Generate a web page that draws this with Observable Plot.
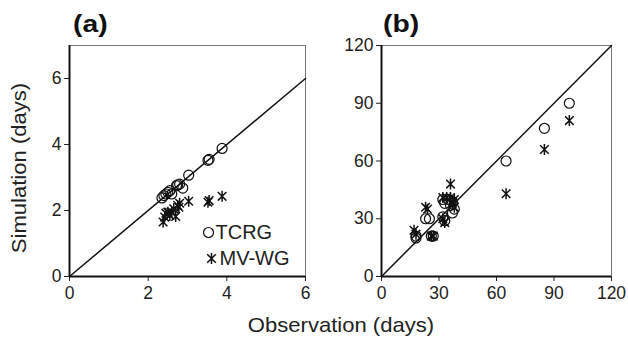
<!DOCTYPE html>
<html><head><meta charset="utf-8">
<script src="https://cdn.jsdelivr.net/npm/d3@7"></script>
<script src="https://cdn.jsdelivr.net/npm/@observablehq/plot@0.6"></script>
<style>
body{margin:0;background:#fff;}
#wrap{position:relative;width:628px;height:340px;font-family:"Liberation Sans",Arial,sans-serif;color:#222;}
#wrap svg{position:absolute;top:0;}
.lbl{position:absolute;white-space:nowrap;line-height:1;}
</style></head><body><div id="wrap"></div>
<script>
// Panel (a)
const tcrgA_obs = [2.35, 2.4, 2.45, 2.5, 2.55, 2.6, 2.72, 2.75, 2.8, 2.88, 3.03, 3.52, 3.55, 3.88];
const tcrgA_sim = [2.38, 2.45, 2.5, 2.55, 2.6, 2.5, 2.75, 2.78, 2.8, 2.68, 3.07, 3.52, 3.55, 3.88];
const mvwgA_obs = [2.38, 2.42, 2.45, 2.5, 2.55, 2.6, 2.65, 2.7, 2.75, 2.78, 2.8, 3.03, 3.52, 3.55, 3.88];
const mvwgA_sim = [1.65, 1.8, 1.92, 1.95, 1.85, 1.95, 2.05, 1.82, 2.15, 2.1, 2.22, 2.28, 2.25, 2.3, 2.43];
// Panel (b)
const tcrgB_obs = [18, 18, 26, 27, 23, 25, 32, 33, 32, 33, 35, 36, 37, 37, 38, 65, 85, 98];
const tcrgB_sim = [20, 21, 21, 21, 30, 30, 31, 29, 40, 38, 40, 37, 33, 39, 35, 60, 77, 90];
const mvwgB_obs = [17, 18, 26, 27, 23, 24, 32, 33, 32, 34, 36, 36, 37, 38, 38, 65, 85, 98];
const mvwgB_sim = [24, 22, 21, 21, 36, 35, 30, 28, 41, 41, 48, 41, 38, 40, 36, 43, 66, 81];
// Axes
const xTicksA = [0, 2, 4, 6];
const yTicksA = [0, 2, 4, 6];
const ticksB = [0, 30, 60, 90, 120];
const domainA_x = [0, 6], domainA_y = [0, 7], domainB = [0, 120];
const lineA = [0, 6], lineB = [0, 120];
const seriesNames = ["TCRG", "MV-WG"];
const panelNames = ["(a)", "(b)"];
const xTitle = "Observation (days)", yTitle = "Simulation (days)";

const zip = (xs, ys) => xs.map((x, i) => ({obs: x, sim: ys[i]}));

const asterisk = {
  draw(ctx, size) {
    const r = Math.sqrt(size / Math.PI);
    const d = r * 0.78;
    ctx.moveTo(0, -r); ctx.lineTo(0, r);
    ctx.moveTo(-d, -d); ctx.lineTo(d, d);
    ctx.moveTo(-d, d); ctx.lineTo(d, -d);
  }
};

function panel(opts) {
  const {w, ml, mr, xd, yd, xt, yt, line, tcrg, mvwg, legend} = opts;
  const marks = [
    Plot.frame({stroke: "#777", strokeWidth: 1}),
    Plot.axisX({ticks: xt, tickSize: 5, tickPadding: 5, label: null, tickFormat: d => d, fill: "#222", stroke: "#222"}),
    Plot.axisY({ticks: yt, tickSize: 5, tickPadding: 3, label: null, tickFormat: d => d, fill: "#222", stroke: "#222"}),
    Plot.ruleX([xd[0]], {stroke: "#111", strokeWidth: 2}),
    Plot.ruleY([yd[0]], {stroke: "#111", strokeWidth: 2}),
    Plot.line(line, {x: d => d, y: d => d, stroke: "#111", strokeWidth: 1.5}),
    Plot.dot(tcrg, {x: "obs", y: "sim", r: 5, stroke: "#111", strokeWidth: 1.2}),
    Plot.dot(mvwg, {x: "obs", y: "sim", r: 5.5, symbol: asterisk, stroke: "#111", strokeWidth: 1.5})
  ];
  if (legend) {
    marks.push(
      Plot.dot([seriesNames[0]], {frameAnchor: "bottom-left", dx: 139, dy: -44, r: 5, stroke: "#111", strokeWidth: 1.2}),
      Plot.text([seriesNames[0]], {text: d => d, frameAnchor: "bottom-left", dx: 146, dy: -44, textAnchor: "start", lineAnchor: "middle", fontSize: 20, fill: "#222"}),
      Plot.dot([seriesNames[1]], {frameAnchor: "bottom-left", dx: 142, dy: -18, r: 5.5, symbol: asterisk, stroke: "#111", strokeWidth: 1.5}),
      Plot.text([seriesNames[1]], {text: d => d, frameAnchor: "bottom-left", dx: 150, dy: -18, textAnchor: "start", lineAnchor: "middle", fontSize: 20, fill: "#222"})
    );
  }
  return Plot.plot({
    width: w, height: 340,
    marginLeft: ml, marginRight: mr, marginTop: 45, marginBottom: 64,
    style: {fontFamily: "Liberation Sans, Arial, sans-serif", fontSize: "17.5px", background: "transparent", overflow: "visible"},
    x: {domain: xd}, y: {domain: yd},
    marks
  });
}

const wrap = document.getElementById("wrap");
const a = panel({w: 314, ml: 69, mr: 9, xd: domainA_x, yd: domainA_y, xt: xTicksA, yt: yTicksA, line: lineA,
  tcrg: zip(tcrgA_obs, tcrgA_sim), mvwg: zip(mvwgA_obs, mvwgA_sim), legend: true});
a.style.left = "0px";
const b = panel({w: 314, ml: 67, mr: 17, xd: domainB, yd: domainB, xt: ticksB, yt: ticksB, line: lineB,
  tcrg: zip(tcrgB_obs, tcrgB_sim), mvwg: zip(mvwgB_obs, mvwgB_sim), legend: false});
b.style.left = "314px";
wrap.append(a, b);

function label(text, css) {
  const d = document.createElement("div");
  d.className = "lbl"; d.textContent = text;
  Object.assign(d.style, css);
  wrap.append(d);
}
label(panelNames[0], {left: "73px", top: "12px", fontSize: "24px", fontWeight: "bold", color: "#111", transformOrigin: "left center", transform: "scaleX(1.18)"});
label(panelNames[1], {left: "383px", top: "12px", fontSize: "24px", fontWeight: "bold", color: "#111", transformOrigin: "left center", transform: "scaleX(1.18)"});
label(xTitle, {left: "341px", top: "314px", fontSize: "21px", transform: "translateX(-50%) scaleX(1.05)"});
label(yTitle, {left: "18px", top: "168px", fontSize: "21px", transform: "translate(-50%,-50%) rotate(-90deg) scaleX(1.05)"});
</script>
</body></html>
